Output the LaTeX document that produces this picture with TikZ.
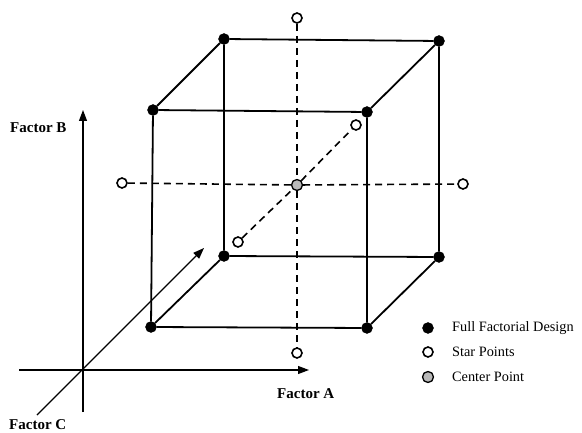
\documentclass[tikz,border=0pt]{standalone}
\usepackage{fontspec}
\setmainfont{Liberation Serif}
\usetikzlibrary{arrows.meta}
\begin{document}
\begin{tikzpicture}[x=1pt,y=-1pt,
  full/.style={circle,fill=black,draw=black,inner sep=0pt,minimum size=11pt},
  star/.style={circle,fill=white,draw=black,line width=1.6pt,inner sep=0pt,minimum size=10pt},
  cpt/.style={circle,fill=gray!55,draw=black,line width=1.3pt,inner sep=0pt,minimum size=11pt},
  edge/.style={line width=1.8pt},
  dashline/.style={line width=1.6pt,dash pattern=on 7pt off 5pt},
  axis/.style={line width=1.1pt,-{Triangle[length=11pt,width=8pt]}},
  lbl/.style={font=\fontsize{15}{17}\selectfont\bfseries,anchor=west,inner sep=0pt},
  leg/.style={font=\fontsize{14.3}{16}\selectfont,anchor=west,inner sep=0pt}]
\useasboundingbox (0,0) rectangle (582,433);
% axes
\coordinate (bT) at (83,110);
\coordinate (bB) at (83,412);
\coordinate (aL) at (19,370);
\coordinate (aR) at (309,370);
\coordinate (cS) at (37,415);
\coordinate (cE) at (204,248);
\draw[axis] (bB) -- (bT);
\draw[axis] (aL) -- (aR);
\draw[axis] (cS) -- (cE);
\node[lbl] (lb) at (10,128) {Factor B};
\node[lbl] (la) at (277,394) {Factor A};
\node[lbl] (lc) at (9,425) {Factor C};
% star points and center
\node[cpt] (c) at (297,185) {};
\node[star] (st) at (297,18) {};
\node[star] (sb) at (297,353) {};
\node[star] (sl) at (122,183) {};
\node[star] (sr) at (463,184) {};
\node[star] (sf) at (238,242) {};
\node[star] (sk) at (356,125) {};
\draw[dashline] (st) -- (c) -- (sb);
\draw[dashline] (sl) -- (c) -- (sr);
\draw[dashline] (sf) -- (c) -- (sk);
% cube corners
\node[full] (ftl) at (153,110) {};
\node[full] (ftr) at (367,112) {};
\node[full] (fbl) at (151,327) {};
\node[full] (fbr) at (367,328) {};
\node[full] (btl) at (224,39) {};
\node[full] (btr) at (439,41) {};
\node[full] (bbl) at (224,256) {};
\node[full] (bbr) at (439,257) {};
\draw[edge] (ftl) -- (ftr) -- (fbr) -- (fbl) -- (ftl);
\draw[edge] (btl) -- (btr) -- (bbr) -- (bbl) -- (btl);
\draw[edge] (ftl) -- (btl);
\draw[edge] (ftr) -- (btr);
\draw[edge] (fbl) -- (bbl);
\draw[edge] (fbr) -- (bbr);
% legend
\node[full] (k1) at (428,328) {};
\node[star] (k2) at (428,352) {};
\node[cpt] (k3) at (428,377) {};
\node[leg] (t1) at (452,328) {Full Factorial Design};
\node[leg] (t2) at (452,352) {Star Points};
\node[leg] (t3) at (452,377) {Center Point};
\end{tikzpicture}
\end{document}
